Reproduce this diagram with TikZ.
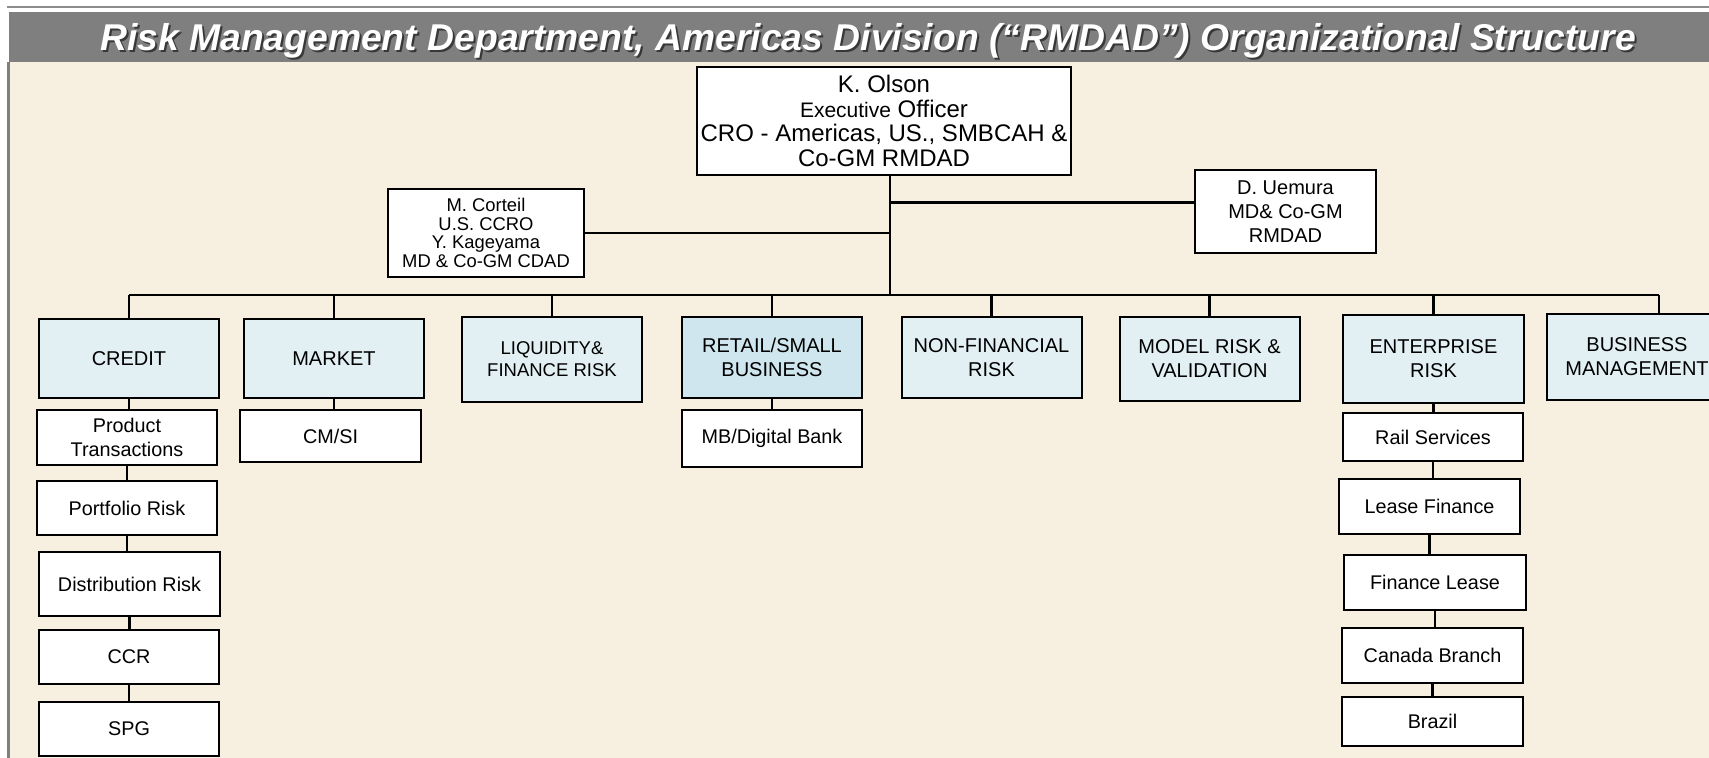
\documentclass[tikz,border=0pt]{standalone}
\usepackage{fontspec}
\setmainfont{Liberation Sans}
\usetikzlibrary{calc}
\definecolor{cream}{HTML}{F7F0E1}
\definecolor{band}{HTML}{7F7F7F}
\definecolor{rule}{HTML}{8C8C8C}
\definecolor{shade}{HTML}{383838}
\definecolor{deptfill}{HTML}{E2F0F4}
\definecolor{retailfill}{HTML}{CFE6EE}

\begin{document}
\begin{tikzpicture}[
    x=0.5pt, y=-0.5pt,
    sz/.style 2 args={minimum width=#1*0.5pt, minimum height=#2*0.5pt},
    box/.style={draw=black, line width=1pt, fill=white, align=center, inner sep=0pt,
        font=\fontsize{9.9pt}{12pt}\selectfont},
    dept/.style={box, fill=deptfill, font=\fontsize{10pt}{12pt}\selectfont},
    banner/.style={anchor=base, font=\fontsize{18.65pt}{20pt}\selectfont\bfseries\itshape},
    wire/.style={line width=1.2pt},
]
\useasboundingbox (0,0) rectangle (1709,758);

% ================================================================ page and banner
\fill[white] (0,0) rectangle (1709,758);
\draw[rule, line width=1pt] (7,7) -- (1709,7);
\fill[band] (9,12) rectangle (1709,62);
\fill[cream] (9,62) rectangle (1709,758);
\draw[band, line width=1.3pt] (8.5,62) -- (8.5,758);

\node[banner, text=shade] (titleshadow) at (870,53)
    {Risk Management Department, Americas Division (“RMDAD”) Organizational Structure};
\node[banner, text=white] (title) at (868,51)
    {Risk Management Department, Americas Division (“RMDAD”) Organizational Structure};

% ================================================================ heads
\node[box, sz={374}{108}, font=\fontsize{12pt}{12.4pt}\selectfont] (olson) at (884,121)
    {K. Olson\\{\fontsize{10.5pt}{12pt}\selectfont Executive} Officer\\CRO - Americas, US., SMBCAH \&\\Co-GM RMDAD};
\node[box, sz={196}{88}, font=\fontsize{9.2pt}{9.4pt}\selectfont] (corteil) at (486,233)
    {M. Corteil\\U.S. CCRO\\Y. Kageyama\\MD \& Co-GM CDAD};
\node[box, sz={181}{83}, font=\fontsize{10pt}{12pt}\selectfont] (uemura) at (1285.5,211.5)
    {D. Uemura\\MD\& Co-GM\\RMDAD};

\coordinate (trunk) at ([xshift=3pt]olson.south);
\coordinate (bus) at (0,295);
\draw[wire] (trunk) -- (trunk |- bus);
\draw[wire] (corteil.east) -- (corteil.east -| trunk);
\draw[wire] ([yshift=4.5pt]uemura.west) -- ([yshift=4.5pt]uemura.west -| trunk);

% ================================================================ departments
\node[dept, sz={180}{79}] (credit) at (129,358.5) {CREDIT};
\node[dept, sz={180}{79}] (market) at (334,358.5) {MARKET};
\node[dept, sz={180}{85}, font=\fontsize{9.25pt}{11pt}\selectfont] (liquidity) at (552,359.5)
    {LIQUIDITY\&\\FINANCE RISK};
\node[dept, sz={180}{81}, fill=retailfill] (retail) at (772,357.5) {RETAIL/SMALL\\BUSINESS};
\node[dept, sz={180}{81}] (nonfin) at (991.5,357.5) {NON-FINANCIAL\\RISK};
\node[dept, sz={180}{84}] (model) at (1209.5,359) {MODEL RISK \&\\VALIDATION};
\node[dept, sz={181}{88}] (enterprise) at (1433.5,359) {ENTERPRISE\\RISK};
\node[dept, sz={180}{86}] (busmgmt) at (1637,357) {BUSINESS\\MANAGEMENT};

\draw[wire] (credit.north |- bus) -- ([xshift=11pt]busmgmt.north |- bus);
\foreach \n in {credit, market, liquidity, retail, nonfin, model, enterprise}{
    \draw[wire] (\n.north) -- (\n.north |- bus);
}
\draw[wire] ([xshift=11pt]busmgmt.north) -- ([xshift=11pt]busmgmt.north |- bus);

% ================================================================ teams
\node[box, sz={180}{55}] (product) at (127,437.5) {Product\\Transactions};
\node[box, sz={180}{54}] (portfolio) at (127,508) {Portfolio Risk};
\node[box, sz={181}{64}] (distribution) at (129.5,584) {Distribution Risk};
\node[box, sz={180}{54}] (ccr) at (129,657) {CCR};
\node[box, sz={180}{54}] (spg) at (129,729) {SPG};

\node[box, sz={181}{52}] (cmsi) at (330.5,436) {CM/SI};
\node[box, sz={180}{57}] (digital) at (772,438.5) {MB/Digital Bank};

\node[box, sz={180}{48}] (rail) at (1433,437) {Rail Services};
\node[box, sz={181}{55}] (lease) at (1429.5,506.5) {Lease Finance};
\node[box, sz={182}{55}] (finlease) at (1435,582.5) {Finance Lease};
\node[box, sz={181}{55}] (canada) at (1432.5,655.5) {Canada Branch};
\node[box, sz={181}{49}] (brazil) at (1432.5,721.5) {Brazil};

\foreach \a/\b in {credit/product, product/portfolio, portfolio/distribution, distribution/ccr,
    ccr/spg, market/cmsi, retail/digital, enterprise/rail, rail/lease, lease/finlease,
    finlease/canada, canada/brazil}{
    \draw[wire] (\a.south) -- (\a.south |- \b.north);
}
\end{tikzpicture}
\end{document}
